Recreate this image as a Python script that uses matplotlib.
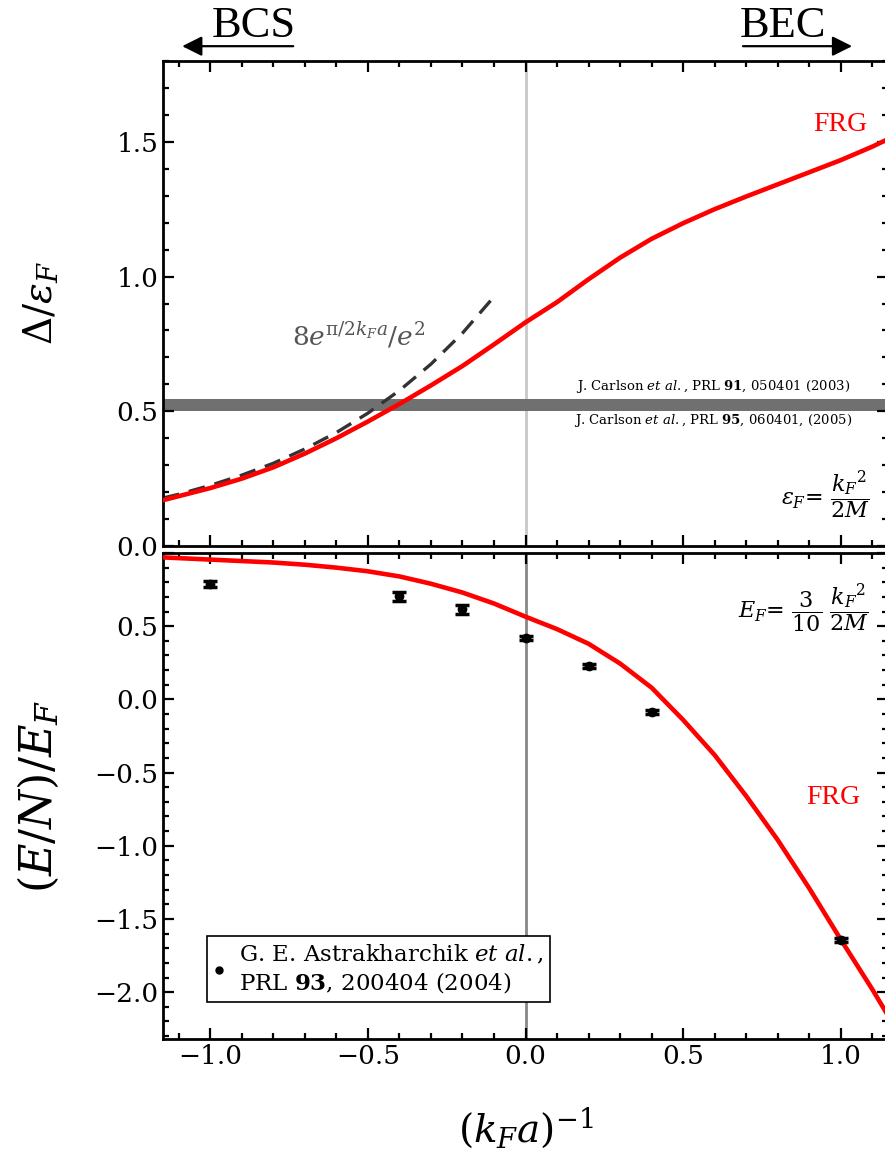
import numpy as np
import matplotlib.pyplot as plt
from matplotlib.lines import Line2D
from matplotlib.ticker import MultipleLocator, FuncFormatter

plt.rcParams['font.family'] = ['DejaVu Serif']
plt.rcParams['mathtext.fontset'] = 'dejavuserif'

# gap Delta/eps_F from the FRG flow
x_gap = [-1.15, -1.1, -1.0, -0.9, -0.8, -0.7, -0.6, -0.5, -0.4, -0.3, -0.2, -0.1,
         0.0, 0.1, 0.2, 0.3, 0.4, 0.5, 0.6, 0.7, 0.8, 0.9, 1.0, 1.1, 1.15]
gap_frg = [0.170, 0.185, 0.215, 0.250, 0.292, 0.343, 0.400, 0.462, 0.527, 0.596, 0.668, 0.748,
           0.830, 0.905, 0.990, 1.070, 1.140, 1.198, 1.250, 1.297, 1.342, 1.387, 1.432, 1.482, 1.510]

# BCS weak coupling result 8 e^{pi/2kFa} / e^2
x_bcs = [-1.15, -1.1, -1.0, -0.9, -0.8, -0.7, -0.6, -0.5, -0.4, -0.3, -0.2, -0.1]
gap_bcs = [0.178, 0.192, 0.225, 0.263, 0.307, 0.360, 0.421, 0.493, 0.577, 0.675, 0.790, 0.925]

# QMC band (Carlson 2003 / 2005)
carlson_lo, carlson_hi = 0.50, 0.545

# energy per particle
x_en = [-1.15, -1.0, -0.9, -0.8, -0.7, -0.6, -0.5, -0.4, -0.3, -0.2, -0.1,
        0.0, 0.1, 0.2, 0.3, 0.4, 0.5, 0.6, 0.7, 0.8, 0.9, 1.0, 1.1, 1.15]
en_frg = [0.970, 0.955, 0.945, 0.935, 0.920, 0.900, 0.875, 0.840, 0.790, 0.730, 0.655,
          0.565, 0.480, 0.380, 0.245, 0.080, -0.140, -0.380, -0.660, -0.960, -1.290, -1.640, -1.980, -2.160]

# Astrakharchik et al. QMC points
x_qmc = [-1.0, -0.4, -0.2, 0.0, 0.2, 0.4, 1.0]
en_qmc = [0.79, 0.705, 0.615, 0.42, 0.23, -0.085, -1.645]
en_err = [0.02, 0.03, 0.03, 0.015, 0.015, 0.015, 0.015]

fig = plt.figure(figsize=(8.85, 11.54), dpi=100)
W, H = 885.0, 1154.0
left, right = 163 / W, 888 / W
ax1 = fig.add_axes([left, 1 - 546 / H, right - left, (546 - 61) / H])
ax2 = fig.add_axes([left, 1 - 1039 / H, right - left, (1039 - 553) / H])

for ax in (ax1, ax2):
    ax.set_xlim(-1.15, 1.15)
    ax.xaxis.set_major_locator(MultipleLocator(0.5))
    ax.xaxis.set_minor_locator(MultipleLocator(0.1))
    ax.yaxis.set_major_locator(MultipleLocator(0.5))
    ax.yaxis.set_minor_locator(MultipleLocator(0.1))
    ax.tick_params(which='both', direction='in', top=True, right=True, width=1.6)
    ax.tick_params(which='major', length=8, labelsize=19)
    ax.tick_params(which='minor', length=4)
    for sp in ax.spines.values():
        sp.set_linewidth(2.0)

# upper panel
ax1.set_ylim(0, 1.8)
ax1.tick_params(labelbottom=False)
ax1.axvline(0, color='#c8c8c8', lw=2, zorder=1)
ax1.axhspan(carlson_lo, carlson_hi, color='#707070', lw=0, zorder=1)
ax1.plot(x_bcs, gap_bcs, color='#333333', lw=2.4, dashes=(5, 3), zorder=2)
ax1.plot(x_gap, gap_frg, color='red', lw=3.3, zorder=3)
ax1.text(1.0, 1.565, 'FRG', color='red', fontsize=20, family='Liberation Serif',
         ha='center', va='center')
ax1.text(-0.53, 0.78, r'$8e^{\mathrm{\pi}/2k_Fa}/e^2$', color='#555555', fontsize=19,
         ha='center', va='center')
ax1.text(0.595, 0.591, r'J. Carlson $\mathit{et\ al.}$, PRL $\mathbf{91}$, 050401 (2003)',
         fontsize=9.5, ha='center', va='center')
ax1.text(0.595, 0.465, r'J. Carlson $\mathit{et\ al.}$, PRL $\mathbf{95}$, 060401, (2005)',
         fontsize=9.5, ha='center', va='center')
ax1.text(1.09, 0.19, r'$\varepsilon_F$= $\dfrac{k_F{}^2}{2M}$', fontsize=16,
         ha='right', va='center')
ax1.set_ylabel(r'$\Delta/\epsilon_F$', fontsize=28)
ax1.yaxis.set_label_coords(-0.142, 0.5)

# BCS / BEC arrows above the frame
ax1.annotate('', xy=(-1.098, 1.855), xytext=(-0.728, 1.855), annotation_clip=False,
             arrowprops=dict(arrowstyle='-|>', color='black', lw=1.6, mutation_scale=30))
ax1.annotate('', xy=(1.045, 1.855), xytext=(0.681, 1.855), annotation_clip=False,
             arrowprops=dict(arrowstyle='-|>', color='black', lw=1.6, mutation_scale=30))
ax1.text(-0.728, 1.93, 'BCS', fontsize=32, family='Liberation Serif',
         ha='right', va='center', clip_on=False)
ax1.text(0.681, 1.93, 'BEC', fontsize=32, family='Liberation Serif',
         ha='left', va='center', clip_on=False)

# lower panel
ax2.set_ylim(-2.32, 1.0)
ax2.yaxis.set_major_formatter(FuncFormatter(
    lambda v, pos: '' if v > 0.9 else f'{v:.1f}'.replace('-', '\u2212')))
ax2.axvline(0, color='#888888', lw=2, zorder=1)
ax2.plot(x_en, en_frg, color='red', lw=3.3, zorder=3)
ax2.errorbar(x_qmc, en_qmc, yerr=en_err, fmt='o', color='black', ms=6,
             elinewidth=2.5, capsize=5, capthick=2.5, zorder=4)
ax2.text(0.976, -0.667, 'FRG', color='red', fontsize=20, family='Liberation Serif',
         ha='center', va='center')
ax2.text(1.09, 0.62, r'$E_F$= $\dfrac{3}{10}\ \dfrac{k_F{}^2}{2M}$', fontsize=16,
         ha='right', va='center')
ax2.set_ylabel(r'$(E/N)/E_F$', fontsize=32)
ax2.yaxis.set_label_coords(-0.14, 0.5)
ax2.set_xlabel(r'$(k_Fa)^{-1}$', fontsize=28, labelpad=26)

proxy = Line2D([], [], marker='o', color='black', ls='none', ms=5)
leg = ax2.legend([proxy],
                 ['G. E. Astrakharchik $\\mathit{et\\ al.}$,\nPRL $\\mathbf{93}$, 200404 (2004)'],
                 loc='lower left', bbox_to_anchor=(0.06, 0.076), borderaxespad=0,
                 fontsize=16.5, fancybox=False, edgecolor='black', framealpha=1,
                 handlelength=0.5, handletextpad=0.6, borderpad=0.3, labelspacing=0.2)
leg.get_frame().set_linewidth(1.2)

fig.savefig('out.png', dpi=100)
